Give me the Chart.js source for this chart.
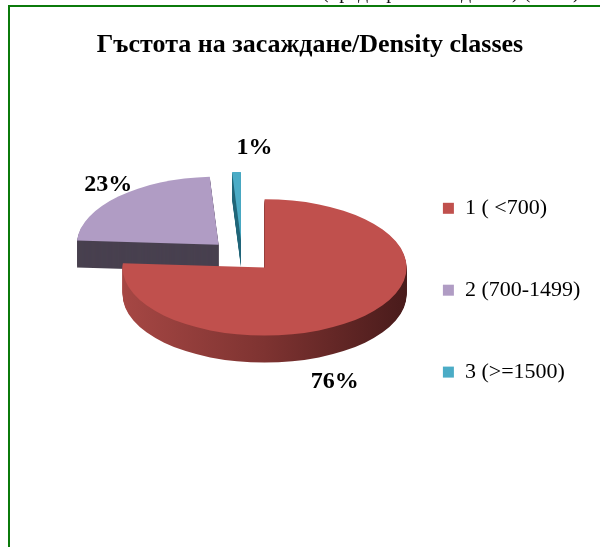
<!DOCTYPE html>
<html>
<head>
<meta charset="utf-8">
<title>Density classes</title>
<script src="https://cdn.jsdelivr.net/npm/chart.js@4.4.0/dist/chart.umd.min.js"></script>
<style>
	html, body { margin: 0; padding: 0; background: #fff; overflow: hidden; }
	#wrap { position: relative; width: 600px; height: 547px; overflow: hidden; }
	#frame {
		position: absolute; left: 8px; top: 5px; width: 800px; height: 800px;
		border-left: 2px solid #0b7a0b; border-top: 2px solid #0b7a0b;
	}
	#above {
		position: absolute; left: 322px; top: -20px; line-height: 20px;
		font: 20px "Liberation Serif", "Times New Roman", serif; color: #111; white-space: nowrap;
		will-change: transform;
	}
	#c { position: absolute; left: 0; top: 0; }
</style>
</head>
<body>
<div id="wrap">
	<div id="above">(предварителни данни) (табл.)</div>
	<div id="frame"></div>
	<canvas id="c" width="600" height="547"></canvas>
</div>
<script>
// data
var categories = ['1 ( <700)', '2 (700-1499)', '3 (>=1500)'];
var shares = [76, 23, 1];

var sliceColors = ['#C0504D', '#B09CC4', '#4BACC6'];
var sideColors = [null, '#48404F', '#22687A'];

var TILT = 0.48;   // vertical squash of the disc
var DEPTH = 27;    // rim thickness in px
var EXPLODE = 33;  // slice pull-out
var serif = '"Liberation Serif", "Times New Roman", serif';

// nudges for the percent labels, relative to the outer rim point
var labelShift = [[-27, 38], [-10, -12], [18, -24]];

function midAngle(arc) {
	return (arc.startAngle + arc.endAngle) / 2;
}

function fillSlice(ctx, arc, d) {
	var m = midAngle(arc);
	ctx.save();
	ctx.translate(arc.x, arc.y + d);
	ctx.scale(1, TILT);
	ctx.translate(Math.cos(m) * EXPLODE, Math.sin(m) * EXPLODE);
	ctx.beginPath();
	ctx.moveTo(0, 0);
	ctx.arc(0, 0, arc.outerRadius, arc.startAngle, arc.endAngle);
	ctx.closePath();
	ctx.fill();
	ctx.restore();
}

// empty box on the left so the pie sits left of the title centre
var leftGap = {
	id: 'leftGap',
	beforeInit: function(chart) {
		Chart.layouts.addBox(chart, {
			position: 'left',
			weight: 0,
			fullSize: false,
			options: {},
			isHorizontal: function() { return false; },
			update: function(maxWidth, maxHeight) {
				this.width = 69;
				this.height = maxHeight;
			},
			draw: function() {}
		});
	}
};

var pie3d = {
	id: 'pie3d',
	beforeDatasetsDraw: function(chart) {
		var ctx = chart.ctx;
		var arcs = chart.getDatasetMeta(0).data;
		// back slices first
		var order = arcs.map(function(a, i) { return i; });
		order.sort(function(a, b) {
			return Math.sin(midAngle(arcs[a])) - Math.sin(midAngle(arcs[b]));
		});
		order.forEach(function(i) {
			var arc = arcs[i];
			var r = arc.outerRadius;
			var side = sideColors[i];
			if (!side) {
				side = ctx.createLinearGradient(-r, 0, r, 0);
				side.addColorStop(0, '#A64744');
				side.addColorStop(0.5, '#7E3331');
				side.addColorStop(1, '#491B1B');
			}
			for (var d = DEPTH; d >= 1; d--) {
				ctx.fillStyle = side;
				fillSlice(ctx, arc, d);
			}
			ctx.fillStyle = sliceColors[i];
			fillSlice(ctx, arc, 0);
		});
		return false;
	},
	afterDraw: function(chart) {
		var ctx = chart.ctx;
		var arcs = chart.getDatasetMeta(0).data;
		var total = shares.reduce(function(s, v) { return s + v; }, 0);
		ctx.save();
		ctx.font = 'bold 24px ' + serif;
		ctx.fillStyle = '#000';
		ctx.textAlign = 'center';
		ctx.textBaseline = 'middle';
		arcs.forEach(function(arc, i) {
			var m = midAngle(arc);
			var R = arc.outerRadius + EXPLODE;
			var x = arc.x + Math.cos(m) * R;
			var y = arc.y + Math.sin(m) * R * TILT;
			if (Math.sin(m) > 0) y += DEPTH;
			ctx.fillText(Math.round(shares[i] / total * 100) + '%', x + labelShift[i][0], y + labelShift[i][1]);
		});
		ctx.restore();
	}
};

new Chart(document.getElementById('c'), {
	type: 'pie',
	data: {
		labels: categories,
		datasets: [{
			data: shares,
			backgroundColor: sliceColors,
			borderWidth: 0,
			radius: 142
		}]
	},
	options: {
		responsive: false,
		animation: false,
		devicePixelRatio: 1,
		layout: { padding: { left: 32, right: 12, top: 10, bottom: 104 } },
		plugins: {
			tooltip: { enabled: false },
			title: {
				display: true,
				text: 'Гъстота на засаждане/Density classes',
				color: '#000',
				font: { family: serif, size: 26, weight: 'bold' },
				padding: { top: 19.5, bottom: 8.1 }
			},
			legend: {
				position: 'right',
				align: 'end',
				fullSize: true,
				maxWidth: 205,
				labels: {
					color: '#000',
					font: { family: serif, size: 22 },
					boxWidth: 11,
					boxHeight: 11,
					padding: 59.9
				}
			}
		}
	},
	plugins: [leftGap, pie3d]
});
</script>
</body>
</html>
